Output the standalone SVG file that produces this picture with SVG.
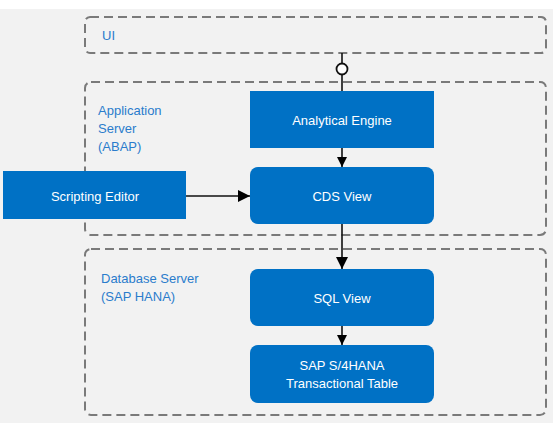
<svg xmlns="http://www.w3.org/2000/svg" width="553" height="428" viewBox="0 0 553 428">
<defs>
<style>
.zone{fill:none;stroke:#7a7a7a;stroke-width:2;stroke-dasharray:9 5}
.zl{font-family:"Liberation Sans",Arial,sans-serif;font-size:13px;fill:#2a7ccc}
.node{fill:#0071c5}
.nt{font-family:"Liberation Sans",Arial,sans-serif;font-size:13px;fill:#ffffff;text-anchor:middle;dominant-baseline:central}
.conn{stroke:#111;stroke-width:1.6;fill:none}
</style>
<marker id="arr" viewBox="0 0 10 10" refX="10" refY="5" markerWidth="10" markerHeight="10" markerUnits="userSpaceOnUse" orient="auto"><path d="M0,0 L10,5 L0,10 z" fill="#000"/></marker>
<marker id="arrL" viewBox="0 0 10 10" refX="10" refY="5" markerWidth="12" markerHeight="12" markerUnits="userSpaceOnUse" orient="auto"><path d="M0,0 L10,5 L0,10 z" fill="#000"/></marker>
</defs>
<rect x="0" y="9" width="553" height="414" fill="#f2f2f2"/>
<g id="zone-ui">
<rect class="zone" x="85" y="17" width="461" height="36" rx="5"/>
<text class="zl" x="102" y="40">UI</text>
</g>
<g id="zone-app">
<rect class="zone" x="85" y="82" width="461" height="153" rx="6"/>
<text class="zl" x="98" y="115">Application</text>
<text class="zl" x="98" y="133">Server</text>
<text class="zl" x="98" y="151">(ABAP)</text>
</g>
<g id="zone-db">
<rect class="zone" x="85" y="249" width="461" height="166" rx="6"/>
<text class="zl" x="101" y="283">Database Server</text>
<text class="zl" x="101" y="301">(SAP HANA)</text>
</g>
<g id="connectors">
<line class="conn" x1="342" y1="53" x2="342" y2="91"/>
<circle cx="342" cy="69" r="5.5" fill="#fff" stroke="#111" stroke-width="1.8"/>
<line class="conn" x1="342" y1="148" x2="342" y2="167" marker-end="url(#arr)"/>
<line class="conn" x1="186" y1="196" x2="250" y2="196" marker-end="url(#arrL)" stroke="#555"/>
<line class="conn" x1="342" y1="224" x2="342" y2="269" marker-end="url(#arrL)"/>
<line class="conn" x1="342" y1="326" x2="342" y2="345" marker-end="url(#arr)"/>
</g>
<g id="analytical-engine">
<rect class="node" x="250" y="91" width="184" height="57"/>
<text class="nt" x="342" y="120">Analytical Engine</text>
</g>
<g id="scripting-editor">
<rect class="node" x="3" y="171" width="183" height="48"/>
<text class="nt" x="95" y="196">Scripting Editor</text>
</g>
<g id="cds-view">
<rect class="node" x="250" y="167" width="184" height="57" rx="8"/>
<text class="nt" x="342" y="196">CDS View</text>
</g>
<g id="sql-view">
<rect class="node" x="250" y="269" width="184" height="57" rx="8"/>
<text class="nt" x="342" y="298">SQL View</text>
</g>
<g id="transactional-table">
<rect class="node" x="250" y="345" width="184" height="58" rx="8"/>
<text class="nt" x="342" y="365">SAP S/4HANA</text>
<text class="nt" x="342" y="383">Transactional Table</text>
</g>
</svg>
